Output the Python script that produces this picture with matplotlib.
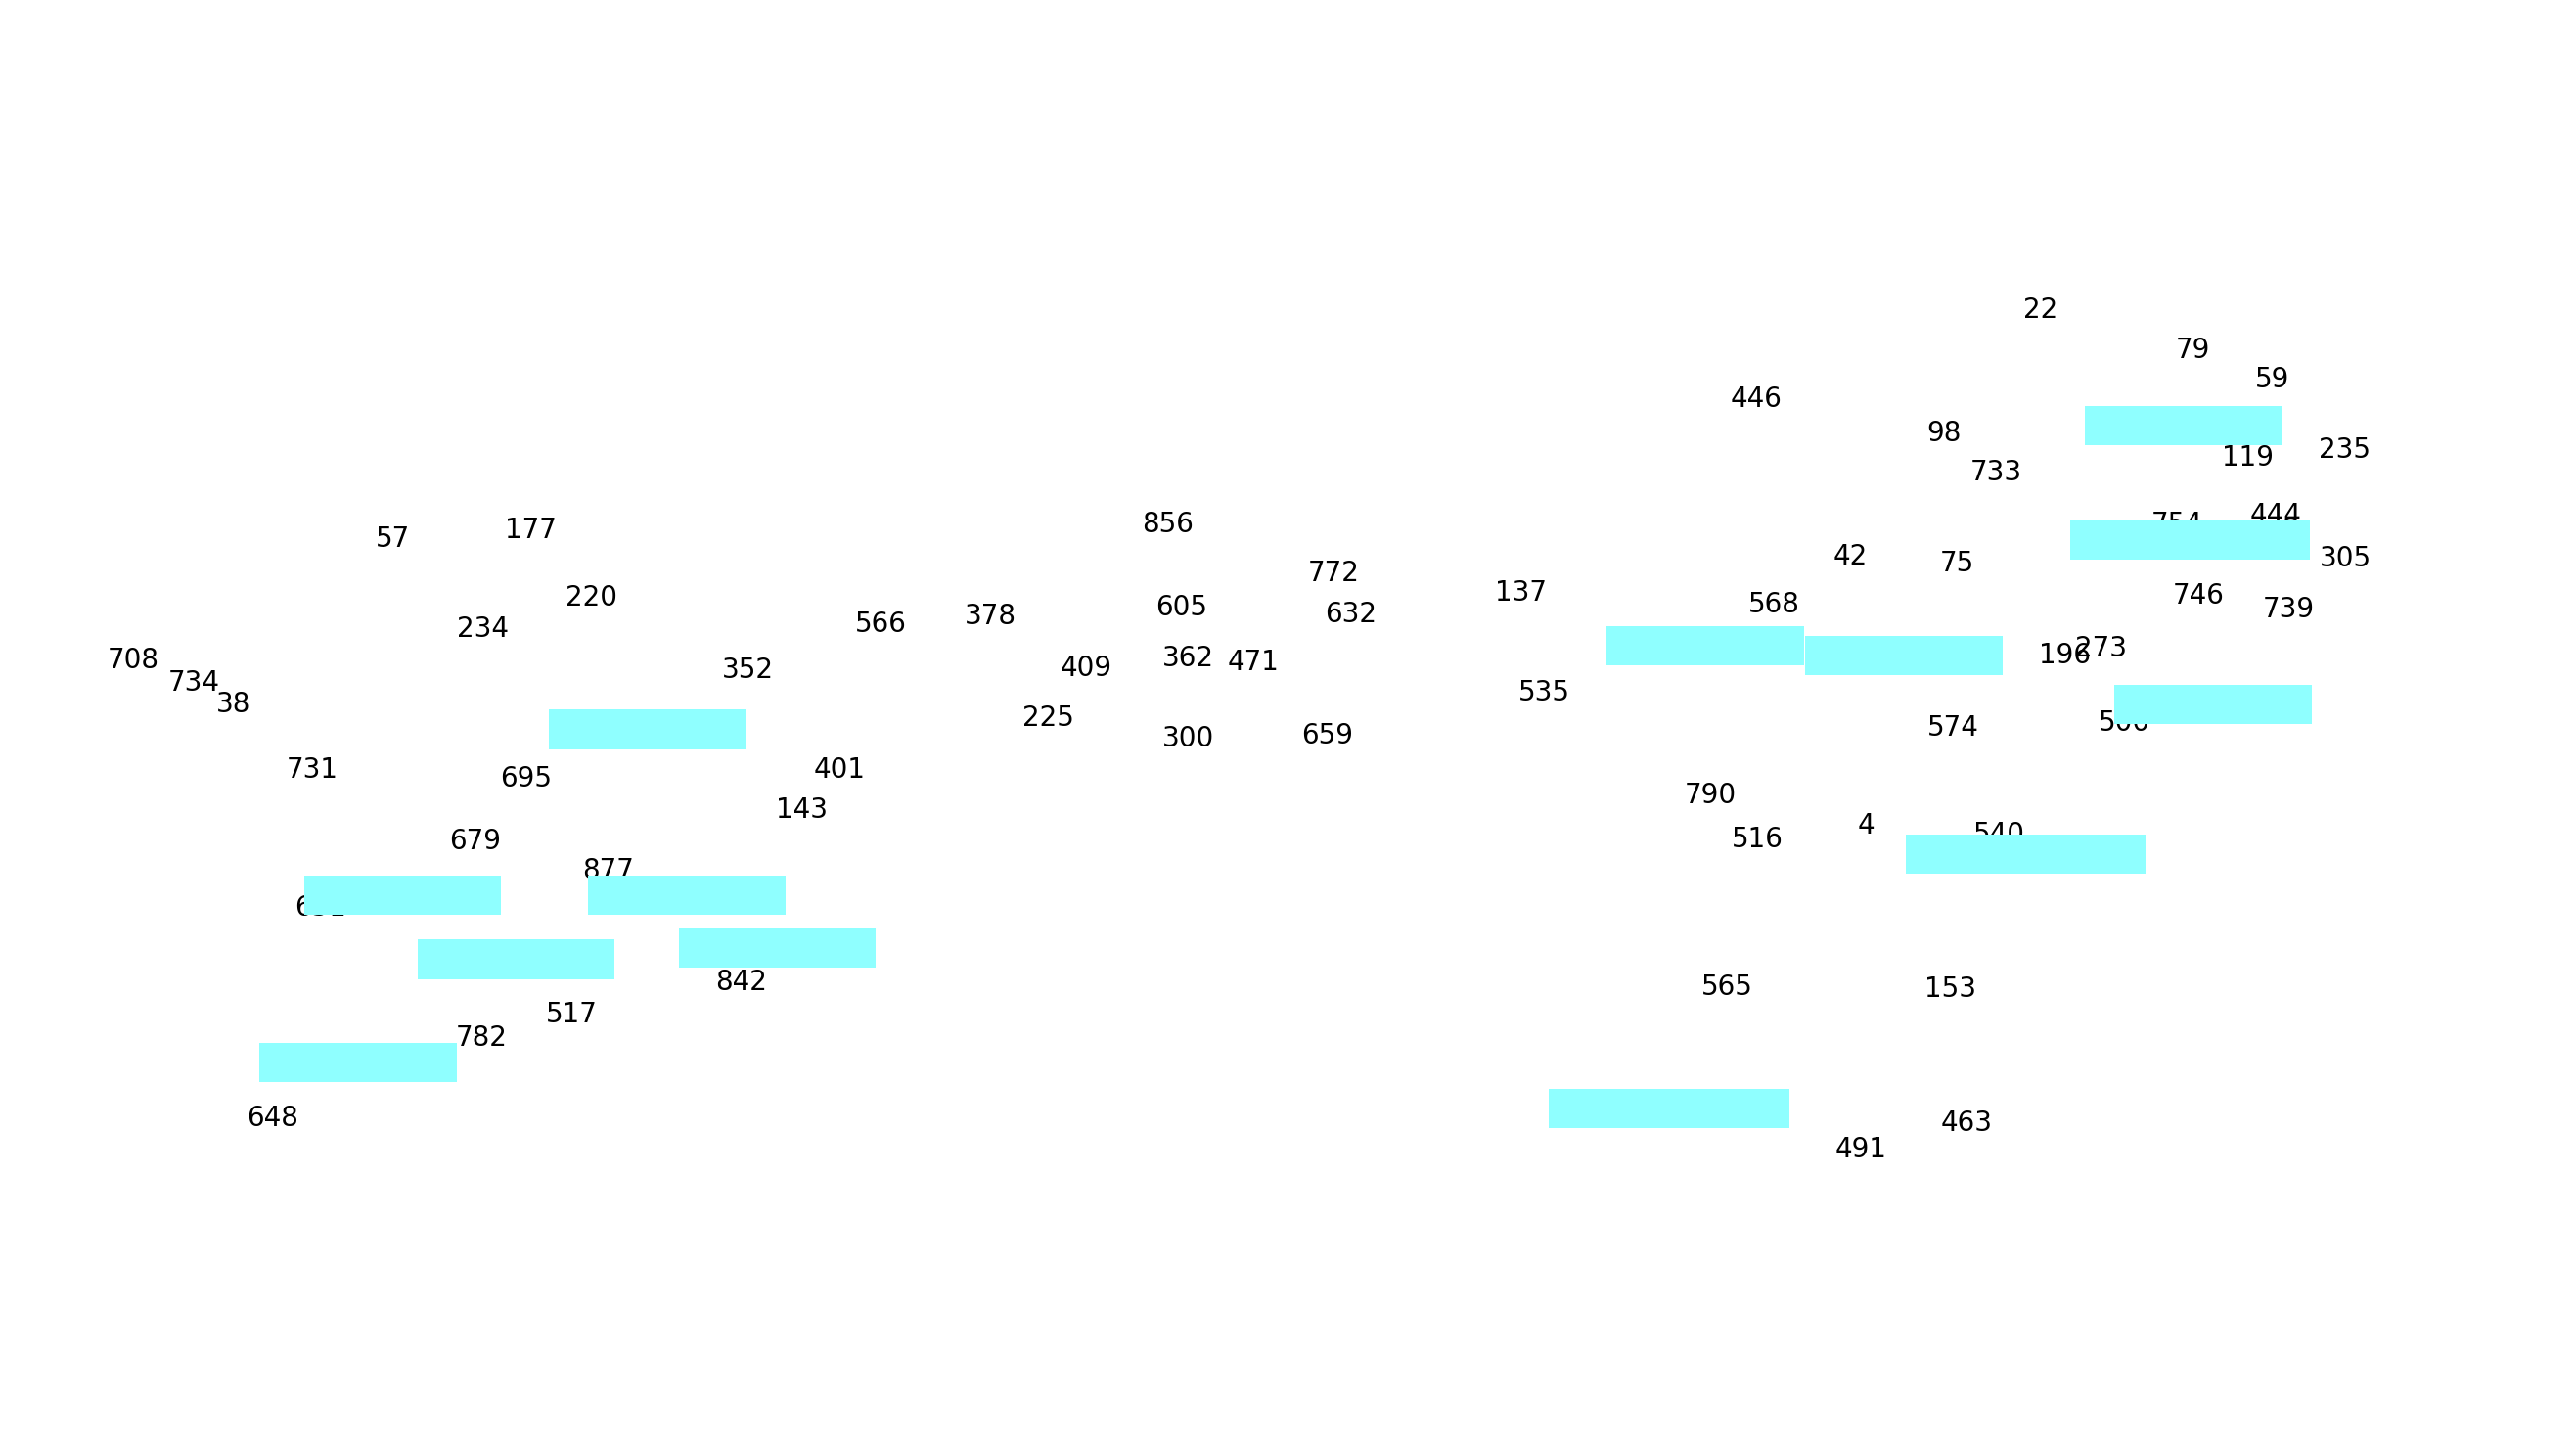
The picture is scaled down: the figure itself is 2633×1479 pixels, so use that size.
import matplotlib
matplotlib.use("Agg")
import matplotlib.pyplot as plt

# Node labels and their positions (reference units: 1568 x 881 view)
labels = ["22", "79", "59", "446", "98", "235", "119", "733", "57", "177",
          "856", "444", "754", "141", "6", "305", "42", "75", "220", "772",
          "137", "568", "605", "632", "746", "739", "566", "378", "234", "708",
          "734", "38", "352", "409", "362", "471", "196", "273", "535", "225",
          "300", "659", "574", "500", "731", "695", "401", "143", "790", "4",
          "516", "540", "679", "877", "651", "565", "153", "842", "517", "782",
          "648", "463", "491"]
label_x = [1242, 1335, 1383, 1069, 1183, 1427, 1368, 1215, 239, 323,
           711, 1385, 1325, 1301, 1393, 1428, 1126, 1191, 360, 812,
           926, 1080, 719, 822, 1338, 1393, 536, 603, 294, 81,
           118, 142, 455, 661, 723, 763, 1257, 1279, 940, 638,
           723, 808, 1189, 1293, 190, 320, 511, 488, 1041, 1136,
           1070, 1217, 289, 370, 195, 1051, 1187, 451, 348, 293,
           166, 1197, 1133]
label_y = [189, 213, 231, 243, 264, 274, 279, 288, 328, 323,
           319, 314, 319, 325, 322, 340, 339, 343, 364, 349,
           361, 368, 370, 374, 363, 371, 380, 375, 383, 402,
           416, 429, 408, 407, 401, 403, 399, 395, 422, 437,
           450, 448, 443, 440, 469, 474, 469, 493, 484, 503,
           511, 508, 512, 530, 553, 601, 602, 598, 618, 632,
           681, 684, 700]

# Cyan boxes: left, top, width, height (reference units)
box_left = [334, 185, 358, 254, 413, 158, 978, 1099, 1269, 1260, 1287, 1160, 943]
box_top = [432, 533, 533, 572, 565, 635, 381, 387, 247, 317, 417, 508, 663]
box_width = [120, 120, 120, 120, 120, 120, 120, 120, 120, 146, 120, 146, 146]
box_height = [24, 24, 24, 24, 24, 24, 24, 24, 24, 24, 24, 24, 24]

fig = plt.figure(figsize=(13.165, 7.395), dpi=200)
ax = fig.add_axes([0, 0, 1, 1])
ax.set_xlim(0, 1568)
ax.set_ylim(881, 0)
ax.axis("off")

for t, x, y in zip(labels, label_x, label_y):
    ax.text(x, y, t, ha="center", va="center", fontsize=10,
            family="DejaVu Sans", color="black", zorder=2)

ax.bar(box_left, box_height, width=box_width, bottom=box_top, align="edge",
       color="#8fffff", edgecolor="none", zorder=3)

fig.savefig("out.png", dpi=200, facecolor="white")
